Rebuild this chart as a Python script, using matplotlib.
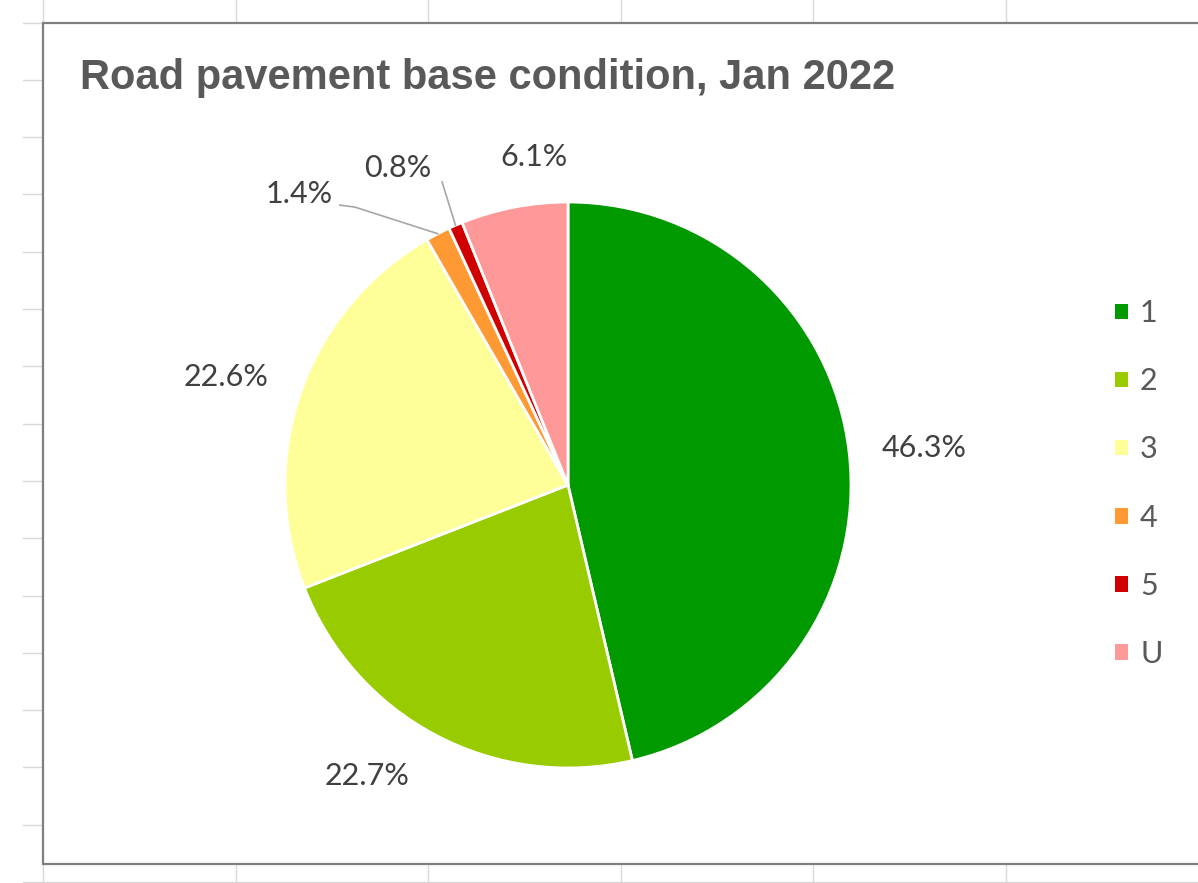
import matplotlib.pyplot as plt
from matplotlib.patches import Patch, Rectangle
import numpy as np

# Pavement base condition shares (%), Jan 2022
categories = ['1', '2', '3', '4', '5', 'U']
shares = [46.3, 22.7, 22.6, 1.4, 0.8, 6.1]
colors = ['#009900', '#99CC00', '#FFFF99', '#FF9933', '#D00000', '#FF9999']
title = 'Road pavement base condition, Jan 2022'

# label placement in pie-radius units, and optional leader start points
label_xy = [(1.26, 0.13), (-0.71, -1.03), (-1.21, 0.38),
            (-0.95, 1.03), (-0.60, 1.12), (-0.12, 1.16)]
leaders = [None, None, None,
           [(-0.806, 0.989), (-0.753, 0.982)],
           [(-0.445, 1.071)],
           None]

W, H = 1198, 883
fig = plt.figure(figsize=(W / 100, H / 100), dpi=100)

# sheet background: cell grid behind the chart object
bg = fig.add_axes([0, 0, 1, 1])
bg.set_xlim(0, W)
bg.set_ylim(H, 0)
bg.axis('off')
for x in np.arange(43, W, 192.6):
    bg.axvline(x, color='#D9D9D9', lw=1, zorder=0)
for y in np.arange(22.5, H, 57.3):
    bg.plot([23, W], [y, y], color='#D9D9D9', lw=1, zorder=0)
bg.add_patch(Rectangle((43, 22.5), W + 20, 864 - 22.5, facecolor='white',
                       edgecolor='#7F7F7F', lw=1.6, zorder=1))

# pie axes: square box centred at (568, 485) px, radius 283 px
cx, cy, r = 568, 485, 283
half = 1.5 * r
ax = fig.add_axes([(cx - half) / W, (H - cy - half) / H, 2 * half / W, 2 * half / H])
wedges, _ = ax.pie(shares, colors=colors, startangle=90, counterclock=False,
                   radius=1, wedgeprops=dict(edgecolor='white', linewidth=2))
ax.set_xlim(-1.5, 1.5)
ax.set_ylim(-1.5, 1.5)
ax.axis('off')

for w, v, (lx, ly), lead in zip(wedges, shares, label_xy, leaders):
    ax.text(lx, ly, f'{v:.1f}%', ha='center', va='center', fontsize=22,
            family='Lato', color='#404040')
    if lead:
        mid = np.deg2rad((w.theta1 + w.theta2) / 2)
        pts = lead + [(np.cos(mid), np.sin(mid))]
        xs, ys = zip(*pts)
        ax.plot(xs, ys, color='#A6A6A6', lw=1.2)

fig.text(80 / W, 1 - 78 / H, title, ha='left', va='center', fontsize=30,
         weight='bold', family='Liberation Sans', color='#595959')

handles = [Patch(facecolor=c, edgecolor='none') for c in colors]
fig.legend(handles, categories, loc='center left',
           bbox_to_anchor=(1115 / W, 1 - 483.5 / H), frameon=False,
           prop=dict(family='Lato', size=22), labelcolor='#595959',
           handlelength=0.42, handleheight=0.42, handletextpad=0.4,
           labelspacing=1.31, borderpad=0, borderaxespad=0)

fig.savefig('out.png', dpi=100)
